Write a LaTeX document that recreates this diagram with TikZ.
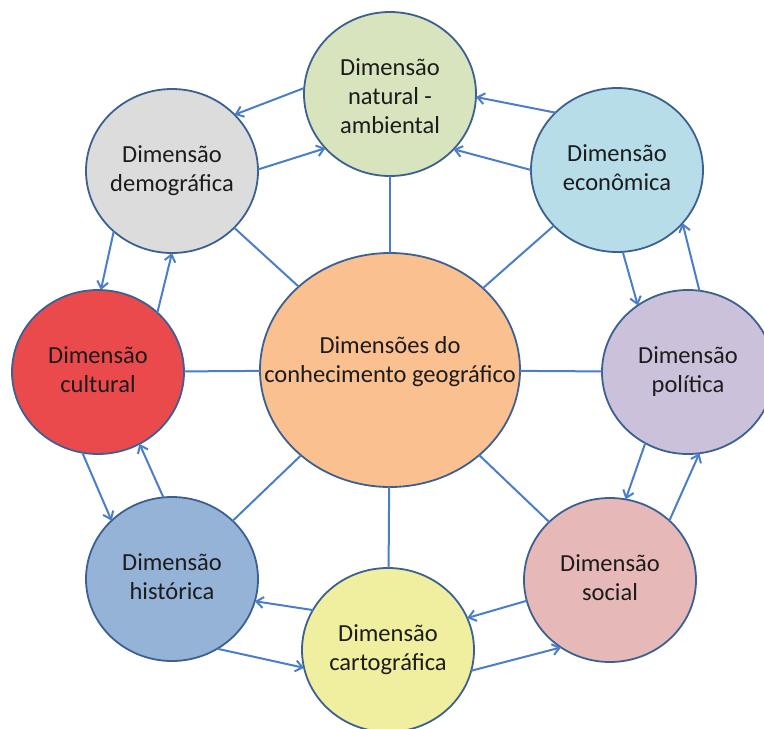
\documentclass[tikz,border=0pt]{standalone}
\usepackage{fontspec}
\setmainfont{Carlito}
\usetikzlibrary{shapes.geometric,arrows.meta}
\definecolor{bord}{HTML}{3B6091}
\definecolor{linkc}{HTML}{4A7EC8}
\definecolor{txt}{HTML}{1C1C1C}
\definecolor{cNat}{HTML}{D7E4BD}
\definecolor{cDem}{HTML}{DCDCDC}
\definecolor{cEco}{HTML}{B7DEE8}
\definecolor{cPol}{HTML}{CCC1DA}
\definecolor{cSoc}{HTML}{E6B9B8}
\definecolor{cCar}{HTML}{F0EFA0}
\definecolor{cHis}{HTML}{95B3D7}
\definecolor{cCul}{HTML}{EB4A4D}
\definecolor{cCen}{HTML}{FAC090}
\newcommand\lbl[2][-6pt]{\makebox[0pt]{\smash{\raisebox{#1}{\begin{tabular}{@{}c@{}}#2\end{tabular}}}}}
\begin{document}
\begin{tikzpicture}[x=1pt,y=-1pt,
  font=\fontsize{24.5}{29}\selectfont,
  dim/.style={ellipse, draw=bord, line width=1.8pt, inner sep=0pt, outer sep=0pt,
    minimum width=172pt, minimum height=164pt, text=txt},
  link/.style={draw=linkc, line width=2pt},
  arr/.style={link, -{Straight Barb[length=7pt,width=11pt]}}]
\useasboundingbox (0,0) rectangle (764,729);
\clip (0,0) rectangle (764,729);
\node[dim, fill=cCen, minimum width=260pt, minimum height=234pt] (M) at (390,370)
  {\lbl[2pt]{Dimensões do\\conhecimento geográfico}};
\node[dim, fill=cNat] (N) at (390,94) {\lbl[-11pt]{Dimensão\\natural -\\ambiental}};
\node[dim, fill=cDem] (D) at (172,171) {\lbl{Dimensão\\demográfica}};
\node[dim, fill=cEco] (E) at (617,170) {\lbl{Dimensão\\econômica}};
\node[dim, fill=cPol] (P) at (688,372) {\lbl{Dimensão\\política}};
\node[dim, fill=cSoc] (S) at (610,580) {\lbl{Dimensão\\social}};
\node[dim, fill=cCar] (K) at (388,650) {\lbl{Dimensão\\cartográfica}};
\node[dim, fill=cHis] (H) at (172,579) {\lbl{Dimensão\\histórica}};
\node[dim, fill=cCul] (C) at (98,372) {\lbl{Dimensão\\cultural}};
\foreach \o in {N,D,E,P,S,K,H,C} \draw[link] (M) -- (\o);
\draw[arr] (N.176.6) -- (D.42);
\draw[arr] (D.1) -- (N.220.7);
\draw[arr] (E.137.4) -- (N.358);
\draw[arr] (E.180) -- (N.319.1);
\draw[arr] (E.274.7) -- (P.127.5);
\draw[arr] (P.82.5) -- (E.321.7);
\draw[arr] (P.239.2) -- (S.79.8);
\draw[arr] (S.45.5) -- (P.278.5);
\draw[arr] (S.194.3) -- (K.22.7);
\draw[arr] (K.346) -- (S.234.8);
\draw[arr] (K.152.5) -- (H.345.7);
\draw[arr] (H.303.3) -- (K.192.6);
\draw[arr] (C.259.6) -- (H.136);
\draw[arr] (H.96.2) -- (C.300.3);
\draw[arr] (D.226.4) -- (C.88.6);
\draw[arr] (C.45) -- (D.270);
\end{tikzpicture}
\end{document}
